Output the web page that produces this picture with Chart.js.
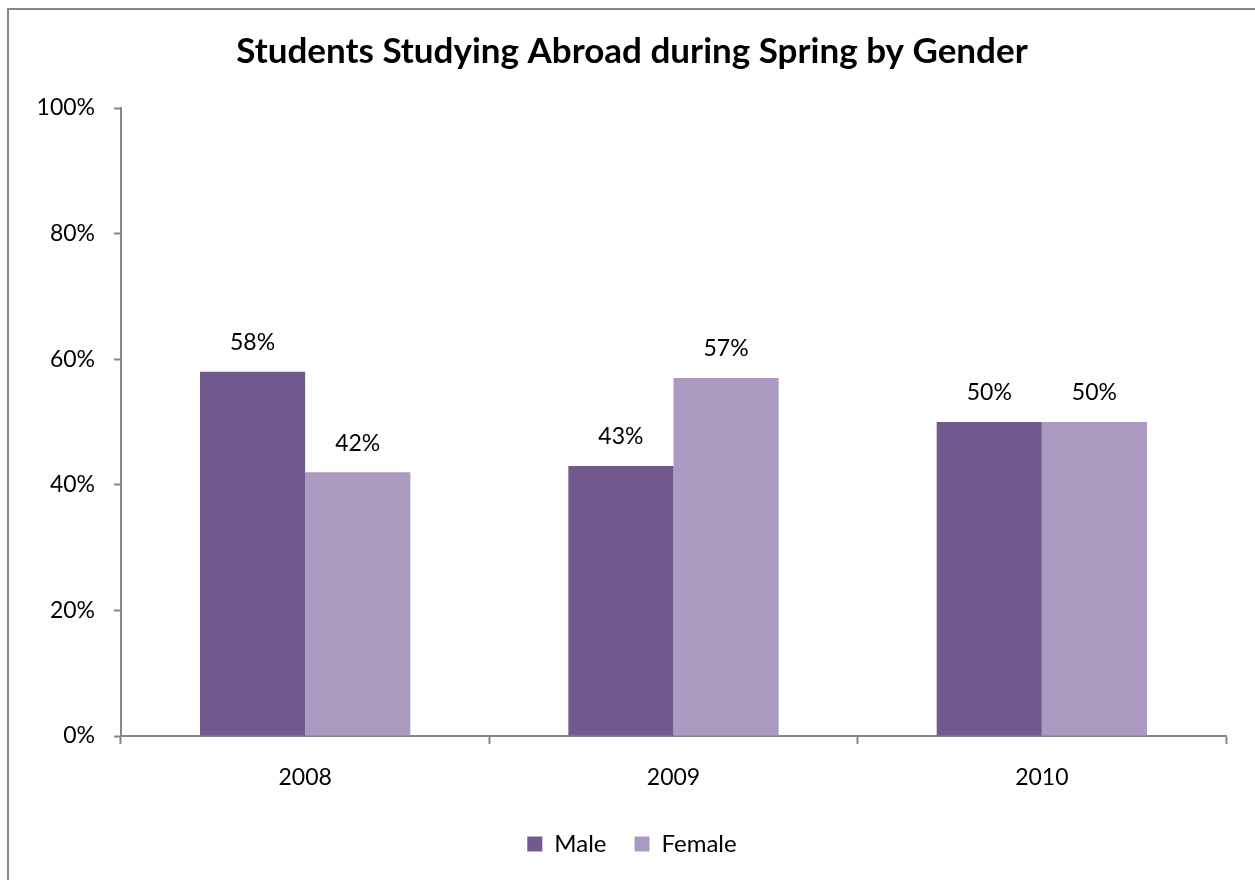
<!DOCTYPE html>
<html>
<head>
<meta charset="utf-8">
<script src="https://cdn.jsdelivr.net/npm/chart.js@4"></script>
<style>
  html, body { margin: 0; padding: 0; background: #fff; }
  #wrap { position: relative; width: 1255px; height: 880px; }
  #frame { position: absolute; left: 7px; top: 8px; width: 1260px; height: 880px;
           border-left: 2px solid #878787; border-top: 2px solid #878787; }
  canvas { position: absolute; left: 0; top: 0; }
</style>
</head>
<body>
<div id="wrap">
  <div id="frame"></div>
  <canvas id="chart" width="1255" height="880"></canvas>
</div>
<script>
// --- datos ---
const years  = ['2008', '2009', '2010'];
const male   = [58, 43, 50];
const female = [42, 57, 50];
const yTicks = [0, 20, 40, 60, 80, 100];

const FONT = 'Lato, "Open Sans", sans-serif';

// etiquetas encima de cada barra
const barLabels = {
  id: 'barLabels',
  afterDatasetsDraw(chart) {
    const ctx = chart.ctx;
    ctx.save();
    ctx.font = '23px ' + FONT;
    ctx.fillStyle = '#000';
    ctx.textAlign = 'center';
    ctx.textBaseline = 'middle';
    chart.data.datasets.forEach((ds, i) => {
      chart.getDatasetMeta(i).data.forEach((bar, j) => {
        ctx.fillText(ds.data[j] + '%', bar.x, bar.y - 29);
      });
    });
    ctx.restore();
  }
};

new Chart(document.getElementById('chart').getContext('2d'), {
  type: 'bar',
  data: {
    labels: years,
    datasets: [
      { label: 'Male',   data: male,   backgroundColor: '#725A8F' },
      { label: 'Female', data: female, backgroundColor: '#AB9BC0' }
    ]
  },
  options: {
    responsive: false,
    animation: false,
    devicePixelRatio: 1,
    layout: { padding: { left: 9, right: 0, top: 0, bottom: 14 } },
    datasets: { bar: { categoryPercentage: 0.571, barPercentage: 1 } },
    scales: {
      y: {
        min: 0, max: 100,
        afterBuildTicks: s => { s.ticks = yTicks.map(v => ({ value: v })); },
        afterFit: s => { s.width = 112; },
        border: { color: '#878787', width: 2 },
        grid: { drawOnChartArea: false, tickLength: 7, color: '#878787', tickWidth: 2 },
        ticks: { padding: 19, color: '#000', font: { family: FONT, size: 23 }, callback: v => v + '%' }
      },
      // eje vacío a la derecha, solo para dejar el margen
      yRight: {
        position: 'right',
        display: true,
        afterFit: s => { s.width = 29; },
        border: { display: false },
        grid: { display: false },
        ticks: { display: false }
      },
      x: {
        afterFit: s => { s.height = 68; },
        border: { color: '#878787', width: 2 },
        grid: { drawOnChartArea: false, tickLength: 8, color: '#878787', tickWidth: 2, offset: true },
        ticks: { padding: 20, color: '#000', font: { family: FONT, size: 23 } }
      }
    },
    plugins: {
      title: {
        display: true,
        text: 'Students Studying Abroad during Spring by Gender',
        color: '#000',
        font: { family: FONT, size: 35, weight: 'bold' },
        padding: { top: 31, bottom: 35 }
      },
      legend: {
        position: 'bottom',
        labels: { color: '#000', font: { family: FONT, size: 24 }, boxWidth: 15, boxHeight: 15, padding: 28 }
      },
      tooltip: { enabled: false }
    }
  },
  plugins: [barLabels]
});
</script>
</body>
</html>
